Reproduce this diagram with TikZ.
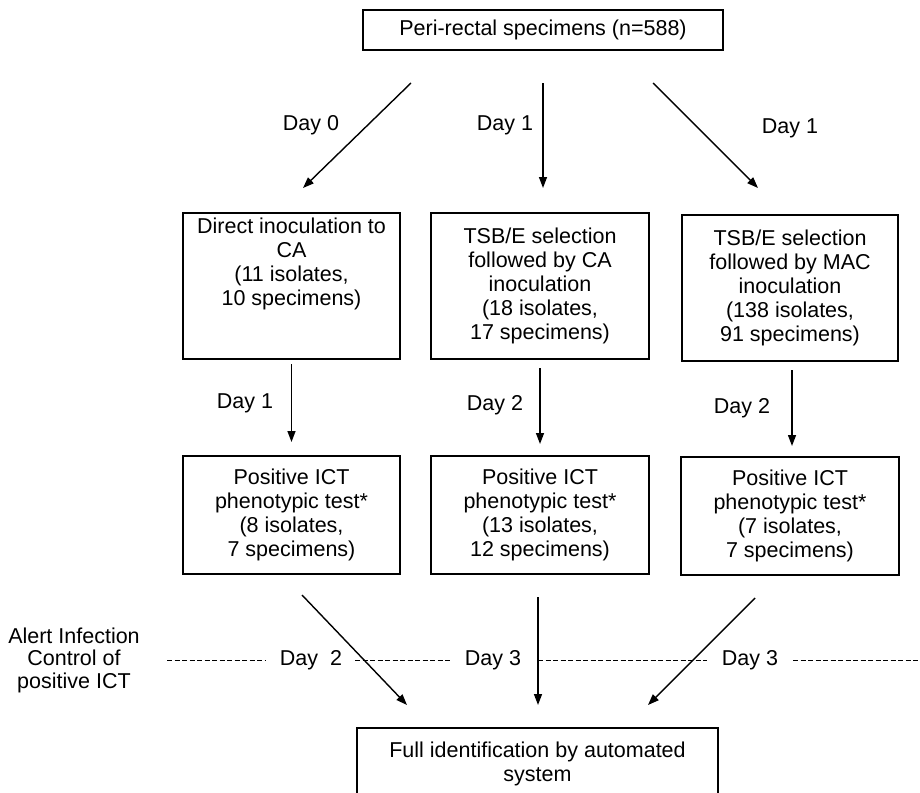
\documentclass[tikz,border=0pt]{standalone}
\usepackage{fontspec}
\setmainfont{Liberation Sans}
\usetikzlibrary{arrows.meta}
\begin{document}
\begin{tikzpicture}[x=1pt,y=-1pt,
  every node/.style={font=\fontsize{21.5}{24.2}\selectfont},
  box/.style={draw, line width=1.3pt, align=center, inner sep=0pt},
  arr/.style={line width=1.4pt, -{Triangle[length=11pt,width=8pt]}},
  dline/.style={line width=0.9pt, dash pattern=on 5pt off 2.5pt},
  lbl/.style={inner sep=0pt}]
\useasboundingbox (0,0) rectangle (920,792);
\clip (0,0) rectangle (920,792);
\fill[white] (0,0) rectangle (920,792);

% boxes
\node[box, minimum width=360pt, minimum height=40pt] (T) at (543,30) {Peri-rectal specimens (n=588)};
\node[box, minimum width=217pt, minimum height=146pt] (A) at (291.5,286)
  {Direct inoculation to\\CA\\(11 isolates,\\10 specimens)\\\mbox{}\\\mbox{}};
\node[box, minimum width=218pt, minimum height=146pt] (B) at (540,286)
  {TSB/E selection\\followed by CA\\inoculation\\(18 isolates,\\17 specimens)};
\node[box, minimum width=216pt, minimum height=146pt] (C) at (790,288)
  {TSB/E selection\\followed by MAC\\inoculation\\(138 isolates,\\91 specimens)};
\node[box, minimum width=217pt, minimum height=118pt] (D) at (291.5,515)
  {Positive ICT\\phenotypic test*\\(8 isolates,\\7 specimens)};
\node[box, minimum width=218pt, minimum height=118pt] (E) at (540,515)
  {Positive ICT\\phenotypic test*\\(13 isolates,\\12 specimens)};
\node[box, minimum width=218pt, minimum height=118pt] (F) at (790,516)
  {Positive ICT\\phenotypic test*\\(7 isolates,\\7 specimens)};
\node[box, minimum width=361pt, minimum height=72pt] (G) at (537.5,764)
  {Full identification by automated\\system};

% arrow end points
\coordinate (t1) at (411,83);  \coordinate (a1) at (303,188);
\coordinate (t2) at (543,83);  \coordinate (b1) at (543,188);
\coordinate (t3) at (653,83);  \coordinate (c1) at (758,188);
\coordinate (a2) at (291.5,364); \coordinate (d1) at (291.5,442);
\coordinate (b2) at (540,368);   \coordinate (e1) at (540,444);
\coordinate (c2) at (792,370);   \coordinate (f1) at (792,446);
\coordinate (d2) at (302,595);   \coordinate (g1) at (407,705);
\coordinate (e2) at (538,597);   \coordinate (g2) at (538,705);
\coordinate (f2) at (755,598);   \coordinate (g3) at (648,705);

\draw[arr] (t1) -- (a1);
\draw[arr] (t2) -- (b1);
\draw[arr] (t3) -- (c1);
\draw[arr] (a2) -- (d1);
\draw[arr] (b2) -- (e1);
\draw[arr] (c2) -- (f1);
\draw[arr] (d2) -- (g1);
\draw[arr] (e2) -- (g2);
\draw[arr] (f2) -- (g3);

% day labels
\node[lbl] (l0) at (311,125) {Day 0};
\node[lbl] (l1) at (505,125) {Day 1};
\node[lbl] (l2) at (790,128) {Day 1};
\node[lbl] (l3) at (245,403) {Day 1};
\node[lbl] (l4) at (495,405) {Day 2};
\node[lbl] (l5) at (742,408) {Day 2};

% alert line
\node[align=center, font=\fontsize{21.5}{22.5}\selectfont] (alert) at (74,660)
  {Alert Infection\\Control of\\positive ICT};
\node[lbl] (m1) at (311,660) {Day~~2};
\node[lbl] (m2) at (493,660) {Day 3};
\node[lbl] (m3) at (750,660) {Day 3};
\coordinate (s0) at (167,660); \coordinate (s1) at (265,660);
\coordinate (s2) at (355,660); \coordinate (s3) at (452,660);
\coordinate (s4) at (538,660); \coordinate (s5) at (707,660);
\coordinate (s6) at (793,660); \coordinate (s7) at (920,660);
\draw[dline] (s0) -- (s1);
\draw[dline] (s2) -- (s3);
\draw[dline] (s4) -- (s5);
\draw[dline] (s6) -- (s7);
\end{tikzpicture}
\end{document}
